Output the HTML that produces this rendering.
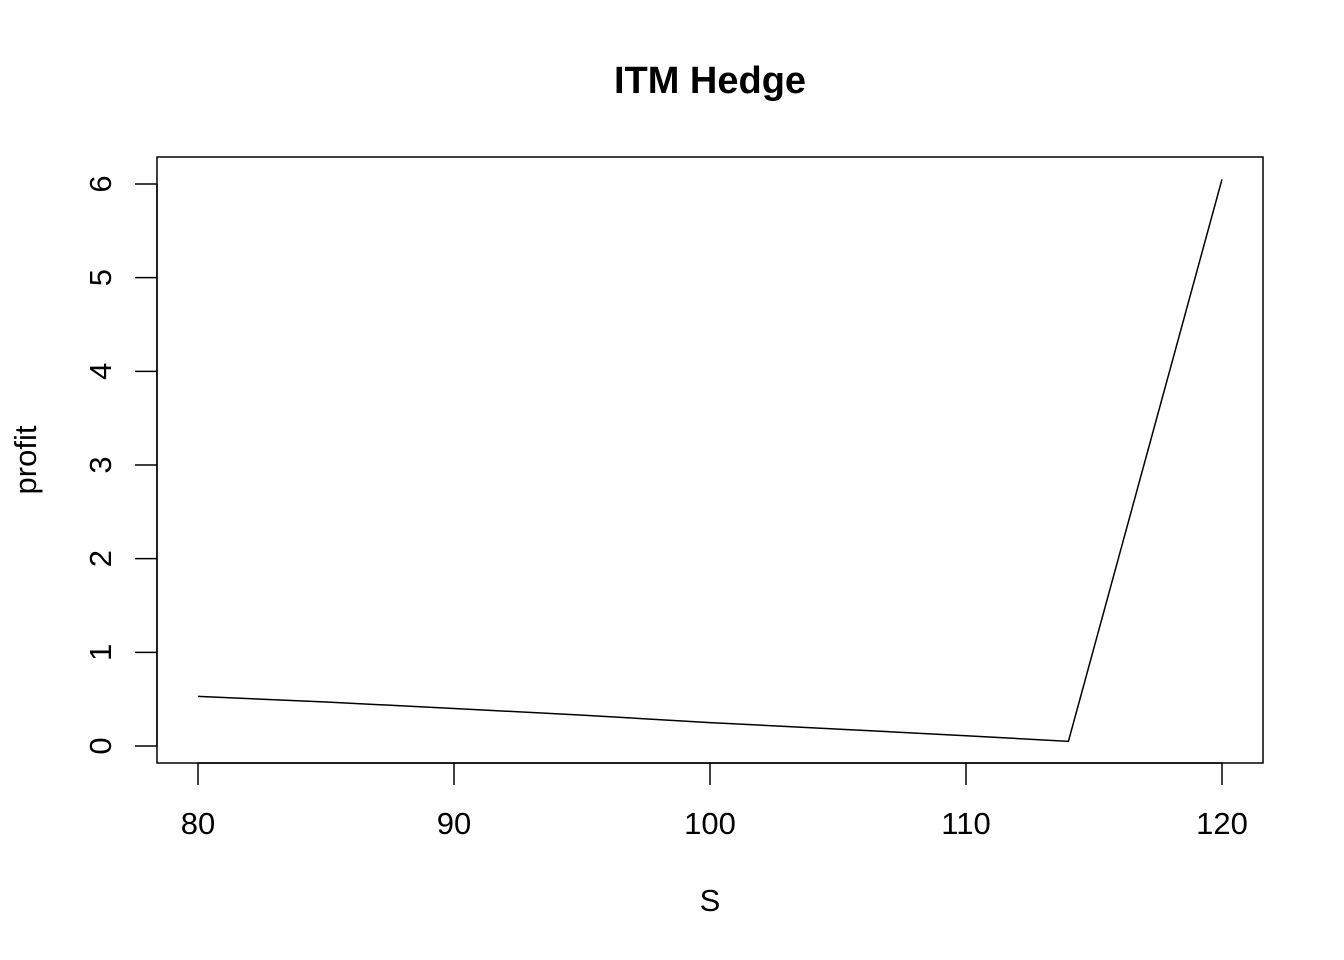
<!DOCTYPE html>
<html><head><meta charset="utf-8"><style>body{margin:0;background:#fff}svg{display:block}</style></head>
<body>
<svg id="chart" width="1344" height="960" xmlns="http://www.w3.org/2000/svg" font-family="Liberation Sans, Arial, sans-serif">
<text x="710" y="93" text-anchor="middle" font-size="38" font-weight="bold">ITM Hedge</text>
<rect x="157" y="157" width="1106" height="606" fill="none" stroke="#000" stroke-width="1.5"/>
<text x="710" y="911" text-anchor="middle" font-size="31">S</text>
<text transform="translate(36,460) rotate(-90)" text-anchor="middle" font-size="31">profit</text>
<g id="xaxis"></g><g id="yaxis"></g><g id="series"></g>
</svg>
<script>
const xTicks=[80,90,100,110,120];
const yTicks=[0,1,2,3,4,5,6];
const sValues=[80,85,90,95,100,105,110,114,116,118,120];
const profitValues=[0.53,0.47,0.40,0.33,0.25,0.18,0.11,0.05,2.05,4.05,6.05];
const NS="http://www.w3.org/2000/svg";
const xs=v=>198+(v-80)*25.6;
const ys=v=>746-v*93.67;
function mk(tag,attrs,parent){const e=document.createElementNS(NS,tag);for(const k in attrs)e.setAttribute(k,attrs[k]);parent.appendChild(e);return e;}
const xa=document.getElementById('xaxis'),ya=document.getElementById('yaxis'),se=document.getElementById('series');
let l=mk('line',{x1:xs(xTicks[0]),x2:xs(xTicks[xTicks.length-1]),y1:763,y2:763,stroke:'#000','stroke-width':1.5},xa);


xTicks.forEach(t=>{
 const tk=mk('line',{x1:xs(t),x2:xs(t),y1:763,y2:785,stroke:'#000','stroke-width':1.5},xa);
 
 
 const tx=mk('text',{x:xs(t),y:834,'text-anchor':'middle','font-size':31},xa);tx.textContent=t;
 
 
});
l=mk('line',{x1:157,x2:157,y1:ys(yTicks[0]),y2:ys(yTicks[yTicks.length-1]),stroke:'#000','stroke-width':1.5},ya);


yTicks.forEach(t=>{
 const tk=mk('line',{x1:135,x2:157,y1:ys(t),y2:ys(t),stroke:'#000','stroke-width':1.5},ya);
 
 
 const tx=mk('text',{transform:`translate(111,${ys(t)}) rotate(-90)`,'text-anchor':'middle','font-size':31},ya);tx.textContent=t;
 
 
});
const pl=mk('polyline',{points:sValues.map((s,i)=>xs(s)+','+ys(profitValues[i])).join(' '),fill:'none',stroke:'#000','stroke-width':1.5},se);


</script>
</body></html>
